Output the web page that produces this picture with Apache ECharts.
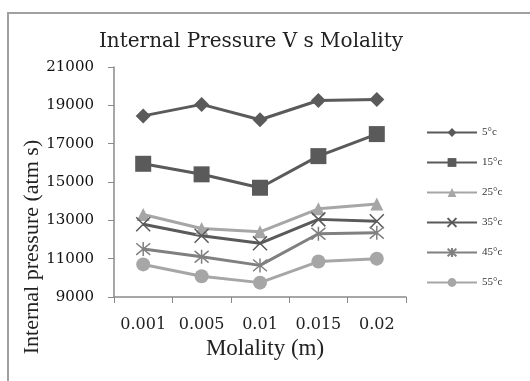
<!DOCTYPE html>
<html>
<head>
<meta charset="utf-8">
<script src="https://cdn.jsdelivr.net/npm/echarts@6/dist/echarts.min.js"></script>
<style>
  html, body { margin: 0; padding: 0; background: #fff; }
  #chart { width: 530px; height: 381px; }
</style>
</head>
<body>
<div id="chart"></div>
<script>
// 浓度（横轴）
var molality = ['0.001', '0.005', '0.01', '0.015', '0.02'];
// 各温度下的内压
var t5 = [18450, 19050, 18250, 19250, 19300];
var t15 = [15950, 15400, 14700, 16350, 17500];
var t25 = [13300, 12570, 12400, 13600, 13850];
var t35 = [12800, 12200, 11800, 13050, 12950];
var t45 = [11500, 11100, 10650, 12300, 12350];
var t55 = [10700, 10080, 9750, 10850, 11000];
var seriesNames = ['5°c', '15°c', '25°c', '35°c', '45°c', '55°c'];

var dark = '#5a5a5a', mid = '#808080', light = '#a6a6a6';
var crossPath = 'path://M0,0L10,10M10,0L0,10';
var starPath = 'path://M0,0L10,10M10,0L0,10M5,-1L5,11';

function line(name, data, color, symbol, size, stroke) {
    var s = {
        name: name,
        type: 'line',
        data: data,
        symbol: symbol,
        symbolSize: size,
        lineStyle: { color: color, width: 3 },
        itemStyle: { color: color },
        z: 2
    };
    if (stroke) {
        s.itemStyle = { color: 'rgba(0,0,0,0)', borderColor: color, borderWidth: 1.5 };
    }
    return s;
}

var chart = echarts.init(document.getElementById('chart'));
chart.setOption({
    animation: false,
    backgroundColor: '#fff',
    textStyle: { fontFamily: 'Liberation Serif' },
    title: {
        text: 'Internal Pressure V s Molality',
        left: 246,
        textAlign: 'center',
        top: 27,
        textStyle: { fontFamily: 'DejaVu Serif', fontSize: 20, fontWeight: 'normal', color: '#222' }
    },
    legend: {
        orient: 'vertical',
        left: 421,
        top: 122,
        itemGap: 19,
        itemWidth: 50,
        itemHeight: 11,
        data: seriesNames,
        textStyle: { fontFamily: 'Liberation Serif', fontSize: 11, color: '#333' }
    },
    grid: { left: 114, top: 67, right: 124, bottom: 84 },
    xAxis: {
        type: 'category',
        data: molality,
        boundaryGap: true,
        name: 'Molality (m)',
        nameLocation: 'middle',
        nameGap: 40,
        nameTextStyle: { fontFamily: 'Liberation Serif', fontSize: 23, color: '#222', padding: [0, 0, 0, 10] },
        axisLine: { lineStyle: { color: '#8a8a8a', width: 1.5 } },
        axisTick: { show: true, length: 6, inside: false, lineStyle: { color: '#8a8a8a' } },
        axisLabel: { fontFamily: 'DejaVu Serif', fontSize: 16, color: '#222', margin: 20, interval: 0, hideOverlap: false }
    },
    yAxis: {
        type: 'value',
        min: 9000,
        max: 21000,
        interval: 2000,
        axisLine: { show: true, lineStyle: { color: '#8a8a8a', width: 1.5 } },
        axisTick: { show: true, length: 6, lineStyle: { color: '#8a8a8a' } },
        splitLine: { show: false },
        axisLabel: {
            fontFamily: 'DejaVu Serif', fontSize: 15, color: '#111', margin: 20,
            formatter: function (v) { return String(v); }
        }
    },
    graphic: [
        {
            type: 'text',
            x: 32,
            y: 247,
            rotation: Math.PI / 2,
            style: {
                text: 'Internal pressure (atm s)',
                font: '22px "Liberation Serif"',
                fill: '#222',
                textAlign: 'center',
                textVerticalAlign: 'middle'
            }
        },
        {
            type: 'rect',
            shape: { x: 8, y: 13, width: 600, height: 500 },
            style: { fill: 'none', stroke: '#a0a0a0', lineWidth: 2 },
            z: -1
        }
    ],
    series: [
        line(seriesNames[0], t5, dark, 'diamond', 15),
        line(seriesNames[1], t15, dark, 'rect', 16),
        line(seriesNames[2], t25, light, 'triangle', 13),
        line(seriesNames[3], t35, dark, crossPath, 14, true),
        line(seriesNames[4], t45, mid, starPath, 14, true),
        line(seriesNames[5], t55, light, 'circle', 14)
    ]
});
</script>
</body>
</html>
